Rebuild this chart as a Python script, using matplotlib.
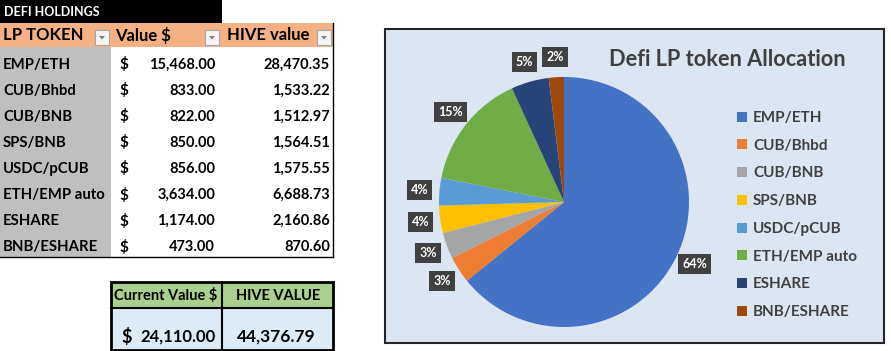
import matplotlib.pyplot as plt
from matplotlib.patches import Rectangle, Polygon

plt.rcParams['font.family'] = ['Lato', 'DejaVu Sans']

# data
tokens = ['EMP/ETH', 'CUB/Bhbd', 'CUB/BNB', 'SPS/BNB', 'USDC/pCUB',
          'ETH/EMP auto', 'ESHARE', 'BNB/ESHARE']
value_usd = [15468.00, 833.00, 822.00, 850.00, 856.00, 3634.00, 1174.00, 473.00]
hive_value = [28470.35, 1533.22, 1512.97, 1564.51, 1575.55, 6688.73, 2160.86, 870.60]
headers = ['LP TOKEN', 'Value $', 'HIVE value']
colors = ['#4472C4', '#ED7D31', '#A5A5A5', '#FFC000', '#5B9BD5',
          '#70AD47', '#264478', '#9E480E']

W, H = 891, 351
fig = plt.figure(figsize=(W / 100, H / 100), dpi=100)
fig.patch.set_facecolor('white')

# pixel-space axes for the sheet part
ax = fig.add_axes([0, 0, 1, 1])
ax.set_xlim(0, W)
ax.set_ylim(H, 0)
ax.axis('off')

def box(x0, y0, x1, y1, fc, ec='none', lw=0, z=1):
    ax.add_patch(Rectangle((x0, y0), x1 - x0, y1 - y0, fc=fc, ec=ec, lw=lw, zorder=z))

# title bar
box(0, 0, 222, 22.5, 'black')
ax.text(4, 11.5, 'DEFI HOLDINGS', color='white', fontsize=9, fontweight='bold', va='center')

# header row
box(0, 22.5, 333, 47, '#F4B183')
head_x = [3, 115, 227]
btn_x = [95, 205, 317]
for hx, bx, h in zip(head_x, btn_x, headers):
    ax.text(hx, 35, h, fontsize=12, fontweight='bold', va='center', color='black')
    box(bx, 30, bx + 14, 44.5, '#F5F5F5', '#A6A6A6', 0.8, z=2)
    ax.add_patch(Polygon([(bx + 4, 36), (bx + 10, 36), (bx + 7, 39.5)], closed=True,
                         fc='#7F7F7F', ec='none', zorder=3))

# body rows
box(0, 47, 111, 257, '#BFBFBF')
y0, dy = 64.5, 26.1
for i, (t, v, hv) in enumerate(zip(tokens, value_usd, hive_value)):
    y = y0 + dy * i
    ax.text(3, y, t, fontsize=10.7, fontweight='bold', va='center')
    ax.text(119, y, '$', fontsize=11, fontweight='bold', va='center')
    ax.text(215, y, f'{v:,.2f}', fontsize=10.5, fontweight='bold', va='center', ha='right')
    ax.text(330, y, f'{hv:,.2f}', fontsize=10.5, fontweight='bold', va='center', ha='right')
ax.plot([0, 333], [257, 257], color='black', lw=1)
ax.plot([333, 333], [22.5, 257], color='black', lw=1)

# summary box
box(111, 282, 333, 308, '#A9D08E')
box(111, 308, 333, 350, '#DDEBF7')
ax.add_patch(Rectangle((111, 282), 222, 68, fc='none', ec='black', lw=2, zorder=3))
ax.plot([222, 222], [282, 350], color='black', lw=1.5, zorder=3)
ax.plot([111, 333], [308, 308], color='black', lw=1.5, zorder=3)
ax.text(114, 296, 'Current Value $', fontsize=10.5, fontweight='bold', va='center')
ax.text(278, 296, 'HIVE VALUE', fontsize=10.5, fontweight='bold', va='center', ha='center')
ax.text(121, 337, '$', fontsize=13, fontweight='bold', va='center')
ax.text(216, 337, f'{sum(value_usd):,.2f}', fontsize=12, fontweight='bold', va='center', ha='right')
ax.text(276, 337, f'{sum(hive_value):,.2f}', fontsize=12.5, fontweight='bold', va='center', ha='center')

# chart area
box(385, 29, 884, 343, '#DCE6F2', '#262626', 1.5)
ax.text(727, 60, 'Defi LP token Allocation', fontsize=15.7, fontweight='bold',
        color='#404040', ha='center', va='center')

# pie axes: centre (564, 202), radius 125 px
R, lim = 125, 1.25
side = 2 * lim * R
cx, cy = 564, H - 202
pax = fig.add_axes([(cx - side / 2) / W, (cy - side / 2) / H, side / W, side / H])
pax.set_xlim(-lim, lim)
pax.set_ylim(-lim, lim)
pax.axis('off')
wedges, _, autotexts = pax.pie(value_usd, colors=colors, startangle=90, counterclock=False,
                               autopct='%1.0f%%', pctdistance=1.16, radius=1,
                               wedgeprops=dict(linewidth=0))
for t in autotexts:
    t.set_color('white')
    t.set_fontsize(9)
    t.set_fontweight('bold')
    t.set_bbox(dict(boxstyle='square,pad=0.32', fc='#404040', ec='none'))
    t.set_clip_on(False)
for w in wedges:
    w.set_clip_on(False)

fig.legend(wedges, tokens, loc='upper left', bbox_to_anchor=(737 / W, (H - 111) / H),
           frameon=False, labelspacing=0.9, handlelength=0.65,
           handleheight=0.65, handletextpad=0.4, borderaxespad=0, borderpad=0,
           labelcolor='#404040', prop=dict(weight='bold', size=11))

fig.savefig('out.png', dpi=100)
